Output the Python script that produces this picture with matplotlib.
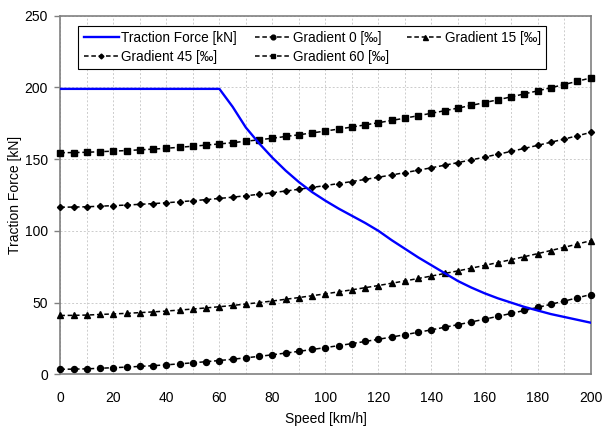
import numpy as np
import matplotlib.pyplot as plt

plt.rcParams['font.family'] = ['Liberation Sans', 'DejaVu Sans']

# speeds for the resistance curves [km/h], one marker every 5 km/h
speed = np.arange(0, 201, 5)

# resistance on each gradient [kN]
grad0 = [3.5, 3.6, 3.8, 4.2, 4.6, 5.0, 5.5, 6.0, 6.6, 7.3, 8.0, 8.8, 9.6, 10.5,
         11.5, 12.5, 13.6, 14.8, 16.0, 17.3, 18.6, 20.0, 21.4, 22.9, 24.4, 26.0,
         27.6, 29.3, 31.0, 32.8, 34.6, 36.5, 38.4, 40.4, 42.4, 44.5, 46.6, 48.8,
         51.0, 53.3, 55.6]
grad15 = [41.0, 41.1, 41.3, 41.7, 42.1, 42.5, 43.0, 43.5, 44.1, 44.8, 45.5, 46.3,
          47.1, 48.0, 49.0, 50.0, 51.1, 52.3, 53.5, 54.8, 56.1, 57.5, 58.9, 60.4,
          61.9, 63.5, 65.1, 66.8, 68.5, 70.3, 72.1, 74.0, 75.9, 77.9, 79.9, 82.0,
          84.1, 86.3, 88.5, 90.8, 93.1]
grad45 = [116.5, 116.6, 116.8, 117.2, 117.6, 118.0, 118.5, 119.0, 119.6, 120.3,
          121.0, 121.8, 122.6, 123.5, 124.5, 125.5, 126.6, 127.8, 129.0, 130.3,
          131.6, 133.0, 134.4, 135.9, 137.4, 139.0, 140.6, 142.3, 144.0, 145.8,
          147.6, 149.5, 151.4, 153.4, 155.4, 157.5, 159.6, 161.8, 164.0, 166.3,
          168.6]
grad60 = [154.5, 154.6, 154.8, 155.2, 155.6, 156.0, 156.5, 157.0, 157.6, 158.3,
          159.0, 159.8, 160.6, 161.5, 162.5, 163.5, 164.6, 165.8, 167.0, 168.3,
          169.6, 171.0, 172.4, 173.9, 175.4, 177.0, 178.6, 180.3, 182.0, 183.8,
          185.6, 187.5, 189.4, 191.4, 193.4, 195.5, 197.6, 199.8, 202.0, 204.3,
          206.6]

# traction force curve [kN]
tf_speed = [0, 60, 65, 70, 75, 80, 85, 90, 95, 100, 105, 110, 115, 120, 125, 130,
            135, 140, 145, 150, 155, 160, 165, 170, 175, 180, 185, 190, 195, 200]
tf_force = [199, 199, 186.5, 172, 161, 151, 142, 134, 127, 121, 115.5, 110.5, 105.5,
            100, 93.5, 87.5, 81.5, 76, 70.5, 65, 60.5, 56.5, 53, 50, 47, 44.5, 42,
            40, 38, 36]

fig = plt.figure(figsize=(6.02, 4.37), dpi=100)
ax = fig.add_axes([0.1002, 0.1435, 0.8808, 0.8205])

dash = (0, (3, 1.8))
kw = dict(color='black', linestyle=dash, linewidth=1.1, clip_on=False, zorder=3)
h_tf, = ax.plot(tf_speed, tf_force, color='#0000ff', linewidth=1.7, zorder=4,
                label='Traction Force [kN]')
h0, = ax.plot(speed, grad0, marker='o', markersize=4.3, label='Gradient 0 [‰]', **kw)
h15, = ax.plot(speed, grad15, marker='^', markersize=4.5, label='Gradient 15 [‰]', **kw)
h45, = ax.plot(speed, grad45, marker='D', markersize=3.1, label='Gradient 45 [‰]', **kw)
h60, = ax.plot(speed, grad60, marker='s', markersize=4, label='Gradient 60 [‰]', **kw)

ax.set_xlim(0, 200)
ax.set_ylim(0, 250)
ax.set_xticks(np.arange(0, 201, 20))
ax.set_xticks(np.arange(0, 201, 10), minor=True)
ax.set_yticks(np.arange(0, 251, 50))

grid_kw = dict(color='#cccccc', linestyle=(0, (2, 2)), linewidth=0.7)
ax.grid(True, which='both', axis='x', **grid_kw)
ax.grid(True, which='major', axis='y', **grid_kw)
ax.set_axisbelow(True)

for s in ax.spines.values():
    s.set_color('#808080')
    s.set_linewidth(1.2)

ax.tick_params(axis='x', which='both', length=0, pad=12, labelsize=10, colors='#000000')
ax.tick_params(axis='y', length=4, width=1, color='#808080', labelsize=10, pad=5)

ax.set_xlabel('Speed [km/h]', fontsize=10, labelpad=5)
ax.set_ylabel('Traction Force [kN]', fontsize=10, labelpad=1.5)

handles = [h_tf, h45, h0, h60, h15]
leg = ax.legend(handles=handles, labels=[h.get_label() for h in handles], ncol=3,
                loc='upper left', bbox_to_anchor=(0.0342, 0.972), fontsize=9.8,
                frameon=True, fancybox=False, edgecolor='black', framealpha=1,
                handlelength=2.6, handletextpad=0.15, columnspacing=1.35,
                borderpad=0.38, labelspacing=0.36, borderaxespad=0, markerscale=0.8)
leg.get_frame().set_linewidth(0.8)

fig.savefig('out.png', dpi=100)
